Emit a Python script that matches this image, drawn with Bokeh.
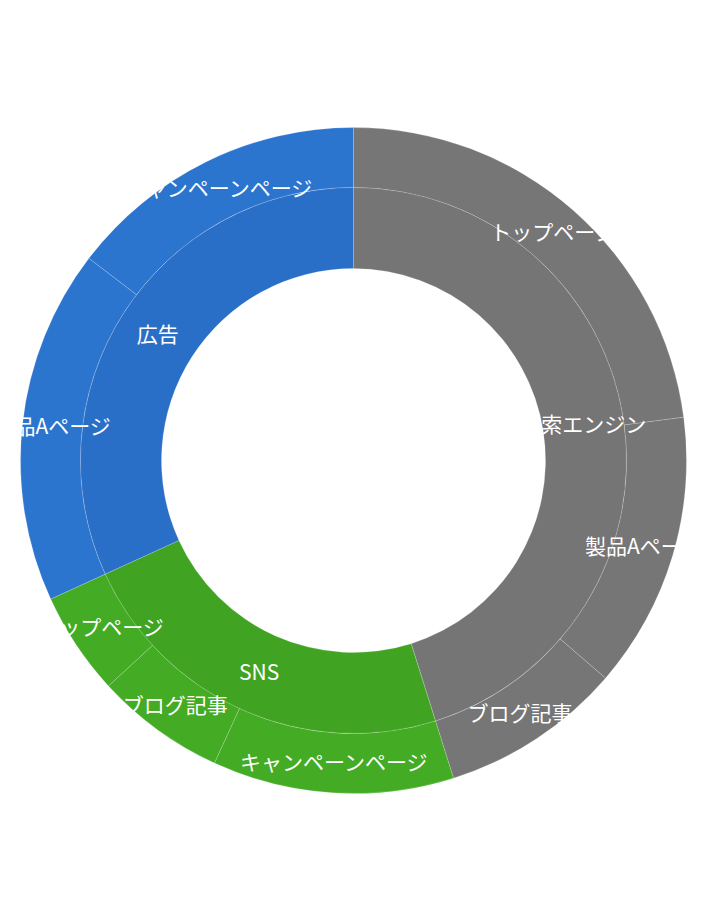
import numpy as np
from bokeh.plotting import figure
from bokeh.models import ColumnDataSource
from bokeh.core.properties import value
from bokeh.embed import file_html
from bokeh.resources import INLINE

# inner ring: traffic sources
sources = ["検索エンジン", "SNS", "広告"]
source_colors = ["#757575", "#40A422", "#2A6FC7"]
child_colors = ["#767676", "#44AB24", "#2C75CF"]

# outer ring: landing pages per source (clockwise order)
pages = [
    ["トップページ", "製品Aページ", "ブログ記事"],
    ["キャンペーンページ", "ブログ記事", "トップページ"],
    ["製品Aページ", "キャンペーンページ"],
]
visits = [
    [229, 134, 88],
    [117, 63, 50],
    [172, 146],
]

R_HOLE, R_MID, R_OUT = 192, 273, 333
W, H = 692, 904
CX, CY = 353, 460  # ring centre, in pixels from the top-left


def ring_data(vals, colors, labels, r0, r1):
    vals = np.asarray(vals, dtype=float)
    total = sum(sum(v) for v in visits)
    cum = np.concatenate([[0], np.cumsum(vals)]) / total
    start = np.pi / 2 - cum[:-1] * 2 * np.pi
    end = np.pi / 2 - cum[1:] * 2 * np.pi
    mid = (start + end) / 2
    rl = (r0 + r1) / 2
    return dict(start=start, end=end, color=colors, label=labels,
                x=rl * np.cos(mid), y=rl * np.sin(mid))


inner = ring_data([sum(v) for v in visits], source_colors, sources, R_HOLE, R_MID)
outer_vals, outer_cols, outer_labels = [], [], []
for i, group in enumerate(visits):
    outer_vals += group
    outer_cols += [child_colors[i]] * len(group)
    outer_labels += pages[i]
outer = ring_data(outer_vals, outer_cols, outer_labels, R_MID, R_OUT)

p = figure(width=W, height=H, x_range=(-CX, W - CX), y_range=(CY - H, CY),
           output_backend="svg", toolbar_location=None, min_border=0)
p.axis.visible = False
p.grid.visible = False
p.outline_line_color = None

src_in = ColumnDataSource(inner)
src_out = ColumnDataSource(outer)

p.annular_wedge(x=0, y=0, inner_radius=R_MID, outer_radius=R_OUT,
                start_angle="start", end_angle="end", direction="clock",
                fill_color="color", line_color="white", line_alpha=0.3,
                line_width=0.6, source=src_out)
p.annular_wedge(x=0, y=0, inner_radius=R_HOLE, outer_radius=R_MID,
                start_angle="start", end_angle="end", direction="clock",
                fill_color="color", line_color="white", line_alpha=0.3,
                line_width=0.6, source=src_in)

# white labels; whatever spills past a ring vanishes on the white page
for src in (src_out, src_in):
    p.text(x="x", y="y", text="label", source=src, text_color="white",
           text_font=value("Noto Sans CJK JP"), text_font_size="21px",
           text_align="center", text_baseline="middle", y_offset=-2)

open("out.html", "w").write(file_html(p, INLINE))
